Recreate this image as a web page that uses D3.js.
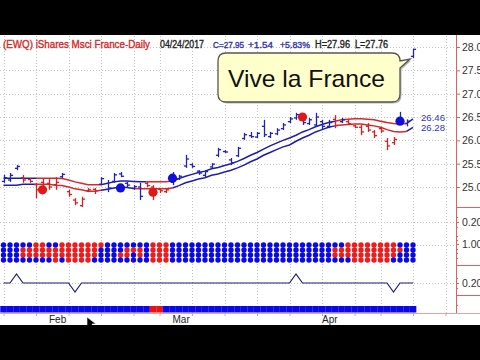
<!DOCTYPE html>
<html><head><meta charset="utf-8">
<script src="https://cdn.jsdelivr.net/npm/d3@7"></script>
<style>html,body{margin:0;padding:0;background:#000;} svg{display:block;font-family:"Liberation Sans",Arial,sans-serif;}</style>
</head><body>
<svg id="c" width="480" height="360"></svg>
<script>
// ---------- DATA ----------
const dates = ["2017-01-23","2017-01-24","2017-01-25","2017-01-26","2017-01-27","2017-01-30","2017-01-31",
"2017-02-01","2017-02-02","2017-02-03","2017-02-06","2017-02-07","2017-02-08","2017-02-09","2017-02-10","2017-02-13","2017-02-14","2017-02-15","2017-02-16","2017-02-17","2017-02-21","2017-02-22","2017-02-23","2017-02-24","2017-02-27","2017-02-28",
"2017-03-01","2017-03-02","2017-03-03","2017-03-06","2017-03-07","2017-03-08","2017-03-09","2017-03-10","2017-03-13","2017-03-14","2017-03-15","2017-03-16","2017-03-17","2017-03-20","2017-03-21","2017-03-22","2017-03-23","2017-03-24","2017-03-27","2017-03-28","2017-03-29","2017-03-30","2017-03-31",
"2017-04-03","2017-04-04","2017-04-05","2017-04-06","2017-04-07","2017-04-10","2017-04-11","2017-04-12","2017-04-13","2017-04-17","2017-04-18","2017-04-19","2017-04-20","2017-04-21","2017-04-24"];
const futureDates = ["2017-04-25","2017-04-26","2017-04-27","2017-04-28","2017-05-01","2017-05-02"];

const high  = [25.26,25.30,25.47,25.26,25.19,25.09,25.19,25.17,25.21,25.30,24.94,24.76,24.79,24.98,24.98,25.21,25.15,25.30,25.32,25.11,25.04,25.09,25.11,25.04,24.98,24.98,25.32,25.26,25.69,25.51,25.36,25.36,25.51,25.84,25.79,25.62,25.86,26.16,26.18,26.18,26.44,26.18,26.26,26.37,26.50,26.59,26.50,26.48,26.59,26.44,26.44,26.54,26.48,26.44,26.33,26.33,26.37,26.22,26.29,26.05,26.07,26.61,26.45,27.96];
const low   = [25.09,25.11,25.36,25.09,25.09,24.76,24.89,24.94,24.94,25.19,24.79,24.61,24.57,24.89,24.85,25.04,24.89,25.09,25.21,25.00,24.94,24.72,25.00,24.72,24.87,24.87,25.04,25.15,25.41,25.41,25.26,25.21,25.41,25.64,25.73,25.47,25.64,26.01,26.05,26.05,26.07,26.05,26.11,26.22,26.37,26.44,26.33,26.33,26.29,26.22,26.26,26.26,26.37,26.33,26.26,26.11,26.18,26.05,26.16,25.79,25.90,26.33,26.30,27.76];
const open  = [25.12,25.15,25.40,25.20,25.16,25.05,25.10,25.08,25.05,25.22,24.90,24.72,24.60,24.92,24.95,25.06,24.95,25.12,25.28,25.08,24.97,25.00,25.08,25.00,24.95,24.90,25.10,25.18,25.45,25.48,25.34,25.25,25.43,25.68,25.76,25.58,25.67,26.04,26.10,26.07,26.30,26.08,26.14,26.25,26.40,26.48,26.45,26.36,26.33,26.40,26.30,26.45,26.40,26.40,26.31,26.28,26.30,26.18,26.25,25.98,25.95,26.38,26.36,27.80];
const close = [25.20,25.25,25.44,25.15,25.12,24.94,24.98,25.00,25.10,25.27,24.84,24.66,24.74,24.94,24.92,25.18,24.98,25.26,25.23,25.04,25.01,24.80,25.03,24.89,24.92,24.94,25.19,25.23,25.60,25.44,25.30,25.33,25.49,25.80,25.75,25.52,25.83,26.12,26.08,26.15,26.12,26.15,26.22,26.33,26.46,26.55,26.38,26.44,26.50,26.30,26.38,26.32,26.44,26.36,26.28,26.18,26.22,26.10,26.20,25.88,26.02,26.45,26.41,27.95];
const barColor = "BBBRRRRRRBRRRRRBBBBBBBRRRRBBBBBBBBBBBBBBBBBBBBBBBBBRBRRRRRRRRBBB".split("");

const upperBand = [25.19,25.19,25.19,25.19,25.19,25.19,25.19,25.19,25.19,25.18,25.15,25.11,25.08,25.05,25.05,25.05,25.08,25.11,25.13,25.13,25.12,25.11,25.11,25.11,25.11,25.11,25.13,25.18,25.23,25.27,25.31,25.34,25.39,25.42,25.46,25.50,25.55,25.61,25.68,25.74,25.81,25.88,25.94,26.00,26.05,26.11,26.18,26.23,26.29,26.34,26.38,26.41,26.44,26.45,26.46,26.46,26.45,26.44,26.41,26.38,26.36,26.35,26.36,26.46];
const lowerBand = [25.04,25.04,25.04,25.06,25.06,25.06,25.06,25.06,25.04,25.03,25.00,24.96,24.94,24.91,24.91,24.93,24.95,24.98,25.00,24.99,24.97,24.96,24.96,24.96,24.96,24.96,24.98,25.03,25.09,25.13,25.17,25.20,25.25,25.28,25.32,25.36,25.41,25.47,25.54,25.60,25.68,25.74,25.80,25.86,25.90,25.98,26.05,26.11,26.18,26.23,26.28,26.31,26.33,26.34,26.35,26.35,26.33,26.31,26.28,26.23,26.19,26.18,26.19,26.28];
const upperState = "BBBBBRRRRRRRRRRBBBBBBBRRRRBBBBBBBBBBBBBBBBBBBBBBBBBRRRRRRRRRRRBB".split("");
const lowerState = "BBBBBRRRRRRRRRRBBBBBRRRRRRBBBBBBBBBBBBBBBBBBBBBBBBBRRRRRRRRRRRBB".split("");

const signalDates = ["2017-01-31","2017-02-16","2017-02-24","2017-03-01","2017-03-29","2017-04-20"];
const signalColor = ["R","B","R","B","R","B"];
const signalPrice = [24.94,24.98,24.89,25.19,26.50,26.41];

const dotColumns = ["BBBB","BBBB","BBBB","BRRB","BRRB","RRRB","RRRB","BRRB","BRRR","RRRB","RRRR","RRRR","RRRR","RRRR","RRRB","RBBB","BBBB","BBBB","BBRB","BRRB","BRBB","BRRB","BBBB","RRRR","RRRR","RRRR",
"BBBB","BBBB","BBBB","BBBB","BBBB","BBBB","BBBB","BBBB","BBBB","BBBB","BBBB","BBBB","BBBB","BBBB","BBBB","BBBB","BBBB","BBBB","BBBB","BBBB","BBBB","BBBB","BBBB","BBBB","BBBB",
"BRRB","BRRB","RRRB","RRRR","RRRR","RRRR","RRRR","RRRR","RRRR","RRRB","BRBB","BBBB","BBBB"];

const oscillator = [0,0,1,0,0,0,0,0,0,0,0,-1,0,0,0,0,0,0,0,0,0,0,0,0,0,0,0,0,0,0,0,0,0,0,0,0,0,0,0,0,0,0,0,0,0,1,0,0,0,0,0,0,0,0,0,0,0,0,0,0,-1,0,0,0];
const trendBar = "BBBBBBBBBBBBBBBBBBBBBBBRRBBBBBBBBBBBBBBBBBBBBBBBBBBBBBBBBBBBBBBB".split("");

const priceTicks = [25.0,25.5,26.0,26.5,27.0,27.5,28.0];
const weekTicks = ["2017-01-23","2017-01-30","2017-02-06","2017-02-13","2017-02-21","2017-02-27","2017-03-06","2017-03-13","2017-03-20","2017-03-27","2017-04-03","2017-04-10","2017-04-17","2017-04-24","2017-05-01"];
const monthLabels = ["Feb","Mar","Apr"];
const monthStarts = ["2017-02-01","2017-03-01","2017-04-03"];

// ---------- DRAW ----------
const svg = d3.select("#c");
const W = 480, AX = 456;
svg.append("rect").attr("width",W).attr("height",360).attr("fill","#000");
svg.append("rect").attr("x",0).attr("y",35).attr("width",W).attr("height",290).attr("fill","#fff");

const allDates = dates.concat(futureDates);
const x = d3.scalePoint().domain(allDates).range([3.5, 3.5 + 6.5*(allDates.length-1)]);
const y = d3.scaleLinear().domain([25,28]).range([187,47]);
const osc = d3.scaleLinear().domain([-1,1]).range([292,274]);

const COL = {B:"#2222b4", R:"#d42222"};
const grid = svg.append("g").attr("stroke","#c4c4c4").attr("stroke-dasharray","1,2").attr("stroke-width",1);
grid.selectAll(".h").data(priceTicks).join("line")
  .attr("x1",0).attr("x2",AX).attr("y1",d=>Math.round(y(d))+0.5).attr("y2",d=>Math.round(y(d))+0.5);
grid.selectAll(".v").data(weekTicks).join("line")
  .attr("x1",d=>Math.round(x(d))+0.5).attr("x2",d=>Math.round(x(d))+0.5).attr("y1",36).attr("y2",313);
[222.5,245.5,283.5].forEach(v=>grid.append("line").attr("x1",0).attr("x2",AX).attr("y1",v).attr("y2",v));

// header
const hdr = svg.append("g");
function ht(t,x0,len,fill,fs){hdr.append("text").attr("x",x0).attr("y",48).attr("font-size",fs||10).attr("fill",fill).attr("stroke",fill).attr("stroke-width",0.35)
  .attr("textLength",len).attr("lengthAdjust","spacingAndGlyphs").text(t);}
ht("(EWQ) iShares Msci France-Daily",3,147,"#d22a2a");
ht("04/24/2017",160,44,"#222");
ht("C=27.95",213,31,"#3434a8",9);
ht("+1.54",248,25,"#3434a8",9);
ht("+5.83%",280,30,"#3434a8",9);
ht("H=27.96",315,35,"#222");
ht("L=27.76",355,33,"#222");

// envelope bands
function runs(vals, state){
  const out=[]; let s=0;
  for(let i=1;i<=vals.length;i++){
    if(i===vals.length || state[i]!==state[s] ){
      const end=Math.min(i, vals.length-1);
      out.push({c:state[s], pts:d3.range(s,end+1).map(k=>[x(dates[k]), y(vals[k])])});
      s=i;
    }
  }
  return out;
}
const line = d3.line();
const bandG = svg.append("g").attr("fill","none").attr("stroke-width",1.5);
[[upperBand,upperState],[lowerBand,lowerState]].forEach(([v,s])=>{
  bandG.selectAll(null).data(runs(v,s)).join("path")
    .attr("d",d=>line(d.pts)).attr("stroke",d=>d.c==="B"?"#1e1ea8":"#d82828");
});

// OHLC bars
const bars = svg.append("g").attr("stroke-width",1.3);
dates.forEach((d,i)=>{
  const cx = Math.round(x(d))+0.5, c = COL[barColor[i]];
  bars.append("line").attr("x1",cx).attr("x2",cx).attr("y1",y(high[i])).attr("y2",y(low[i])).attr("stroke",c);
  bars.append("line").attr("x1",cx-2.6).attr("x2",cx).attr("y1",y(open[i])).attr("y2",y(open[i])).attr("stroke",c);
  bars.append("line").attr("x1",cx).attr("x2",cx+2.6).attr("y1",y(close[i])).attr("y2",y(close[i])).attr("stroke",c);
});
// signal dots
svg.append("g").selectAll("circle").data(signalDates).join("circle")
  .attr("cx",d=>x(d)).attr("cy",(d,i)=>y(signalPrice[i])).attr("r",4.6)
  .attr("fill",(d,i)=>signalColor[i]==="B"?"#1010d8":"#e01818");

// band end labels
const fmt = d3.format(".2f");
svg.append("g").attr("font-size",9.5).attr("fill","#3434c0").selectAll("text")
  .data([upperBand[upperBand.length-1], lowerBand[lowerBand.length-1]]).join("text")
  .attr("x",421).attr("y",(d,i)=>y(d)+ (i===0?2.5:4)).attr("textLength",24).attr("lengthAdjust","spacingAndGlyphs").text(d=>fmt(d));

// dot matrix
const rowsY = [245,250,255,260];
const dm = svg.append("g");
dotColumns.forEach((col,i)=>{
  col.split("").forEach((c,r)=>{
    dm.append("circle").attr("cx",x(dates[i])).attr("cy",rowsY[r]).attr("r",2.7)
      .attr("fill",c==="B"?"#0a0ae6":"#ee1c1c");
  });
});

// oscillator line
svg.append("path").datum(oscillator).attr("fill","none").attr("stroke","#1c1c78").attr("stroke-width",1.2)
  .attr("d",d3.line().x((d,i)=>x(dates[i])).y(d=>osc(d)));

// trend bar
svg.append("g").selectAll("rect").data(trendBar).join("rect")
  .attr("x",(d,i)=>x(dates[i])-3.25).attr("width",6.6).attr("y",306).attr("height",6.5)
  .attr("fill",d=>d==="B"?"#0808e8":"#ee1111");

// right axis
const ax = svg.append("g").attr("transform",`translate(${AX},0)`)
  .call(d3.axisRight(y).tickValues(priceTicks).tickFormat(fmt).tickSize(4).tickPadding(2));
ax.select(".domain").remove();
ax.selectAll("line").attr("stroke","#e06060");
ax.selectAll("text").attr("fill","#333").attr("font-size",10.5).attr("font-family","Liberation Sans, Arial");
svg.append("line").attr("x1",AX+0.5).attr("x2",AX+0.5).attr("y1",35).attr("y2",313).attr("stroke","#e06060");
[207,265,295].forEach(v=>svg.append("line").attr("x1",AX).attr("x2",W).attr("y1",v+0.5).attr("y2",v+0.5).attr("stroke","#e06060"));
[[222,"0.20"],[244,"1.00"],[283,"0.20"]].forEach(([v,t])=>{
  svg.append("line").attr("x1",AX).attr("x2",AX+3).attr("y1",v+0.5).attr("y2",v+0.5).attr("stroke","#e06060");
  svg.append("text").attr("x",AX+6).attr("y",v+4).attr("font-size",10.5).attr("fill","#333").text(t);
});
[217,227,236,240,249,253,258,278,288,305].forEach(v=>svg.append("line").attr("x1",AX).attr("x2",AX+2).attr("y1",v+0.5).attr("y2",v+0.5).attr("stroke","#e06060"));

// bottom axis
const bx = svg.append("g").attr("transform","translate(0,313)")
  .call(d3.axisBottom(x).tickValues(weekTicks).tickSize(3).tickFormat(""));
bx.select(".domain").attr("stroke","#e8a0a0").attr("d","M0,0.5H480");
bx.selectAll("line").attr("stroke","#e0a0a0");
svg.append("g").attr("font-size",10).attr("fill","#222").selectAll("text").data(monthStarts).join("text")
  .attr("x",d=>x(d)).attr("y",323).text((d,i)=>monthLabels[i]);

// callout
const callout = "M226,53 H392 Q400,53 400,61 L410,59 L400,68 V94 Q400,102 392,102 H226 Q218,102 218,94 V61 Q218,53 226,53 Z";
svg.append("path").attr("d",callout).attr("transform","translate(1.5,1.5)").attr("fill","#b8b8b0");
svg.append("path").attr("d",callout).attr("fill","#ffffcc").attr("stroke","#555").attr("stroke-width",1.3);
svg.append("text").attr("x",228).attr("y",87).attr("font-size",24).attr("fill","#111")
  .attr("textLength",157).attr("lengthAdjust","spacingAndGlyphs").text("Vive la France");

// mouse cursor
svg.append("path").attr("d","M87,317 L87,328 L90,325 L92.5,330 L94.5,329 L92,324 L96,324 Z").attr("fill","#000").attr("stroke","#fff").attr("stroke-width",0.6);

// bottom black
svg.append("rect").attr("x",0).attr("y",325).attr("width",W).attr("height",35).attr("fill","#000");
</script>
</body></html>
